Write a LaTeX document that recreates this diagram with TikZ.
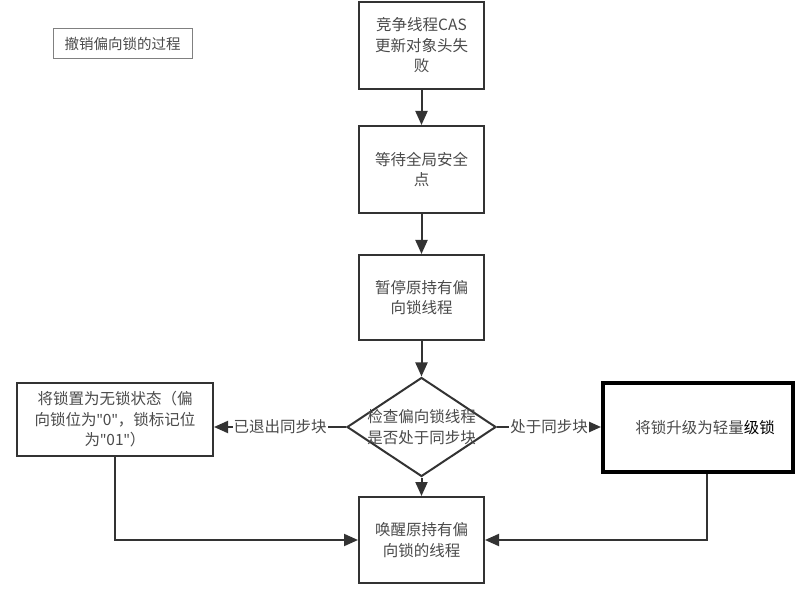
\documentclass[tikz,border=0pt]{standalone}
\usepackage{fontspec}
\setmainfont[Ligatures=NoCommon]{Noto Sans CJK SC}
\newfontfamily\latinf{Noto Sans}
\usetikzlibrary{arrows.meta,shapes.geometric}
\definecolor{txt}{HTML}{4A4A4A}
\definecolor{ln}{HTML}{333333}
\newcommand{\dq}{{\latinf\symbol{34}}}
\begin{document}
\begin{tikzpicture}[x=1pt,y=-1pt,
  every node/.style={font=\fontsize{15.5}{20.5}\selectfont, text=txt},
  box/.style={draw=ln, line width=2pt, rectangle, minimum width=125pt, inner sep=0pt, align=center},
  arr/.style={draw=ln, line width=2pt, -{Triangle[length=14pt,width=12pt]}},
  lab/.style={fill=white, inner sep=1pt}
]
\useasboundingbox (0,0) rectangle (811,609);
\node[draw=gray, line width=1pt, minimum width=139pt, minimum height=30pt, inner sep=0pt,
  font=\fontsize{14.5}{18}\selectfont] (title) at (122.5,44) {撤销偏向锁的过程};
\node[box, minimum height=87pt] (b1) at (421.5,45.5) {竞争线程CAS\\更新对象头失\\败};
\node[box, minimum height=87pt] (b2) at (421.5,169.5) {等待全局安全\\点};
\node[box, minimum height=85pt] (b3) at (421.5,297.5) {暂停原持有偏\\向锁线程};
\node[diamond, draw=ln, line width=2pt, minimum width=149pt, minimum height=99pt, inner sep=0pt] (d) at (421.5,427) {};
\node[align=center, inner sep=0pt] (dt) at (421.5,427) {检查偏向锁线程\\是否处于同步块};
\node[box, minimum width=196pt, minimum height=73pt] (lb) at (115,419.5) {将锁置为无锁状态（偏\\向锁位为\dq0\dq，锁标记位\\为\dq01\dq）};
\node[box, draw=black, line width=4pt, minimum width=190pt, minimum height=89pt] (rb) at (698,427.5) {\hspace*{14pt}将锁升级为轻量\textcolor{black}{级锁}};
\node[box, minimum height=86pt] (bb) at (421.5,540) {唤醒原持有偏\\向锁的线程};
\draw[arr] (b1) -- (b2);
\draw[arr] (b2) -- (b3);
\draw[arr] (b3) -- (d);
\draw[arr] (d.south) -- (bb.north);
\draw[arr] (d.west) -- node[lab] {已退出同步块} (d.west -| lb.east);
\draw[arr] (d.east) -- node[lab] {处于同步块} (d.east -| rb.west);
\draw[arr] (lb.south) |- (bb.west);
\draw[arr] ([xshift=9pt]rb.south) |- (bb.east);
\end{tikzpicture}
\end{document}
